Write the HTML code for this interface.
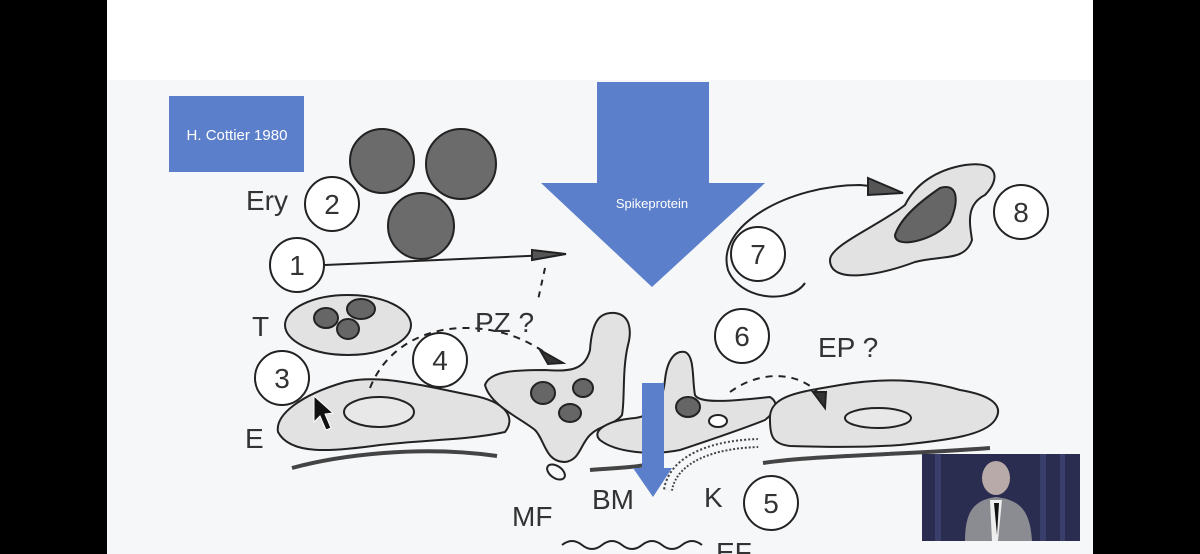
<!DOCTYPE html>
<html><head><meta charset="utf-8"><style>
html,body{margin:0;padding:0;background:#000;}
svg{display:block}
text{font-family:"Liberation Sans",sans-serif;}
</style></head><body>
<svg width="1200" height="554" viewBox="0 0 1200 554" xmlns="http://www.w3.org/2000/svg">
<rect x="0" y="0" width="1200" height="554" fill="#000"/>
<rect x="107" y="0" width="986" height="554" fill="#ffffff"/>
<rect x="107" y="80" width="986" height="474" fill="#f6f7f9"/>

<rect x="169" y="96" width="135" height="76" fill="#5b7fca"/>
<text x="237" y="140" font-size="15" fill="#fff" text-anchor="middle">H. Cottier 1980</text>

<g stroke="#222" stroke-width="2" fill="none">
<circle cx="382" cy="161" r="32" fill="#6b6b6b"/>
<circle cx="461" cy="164" r="35" fill="#6b6b6b"/>
<circle cx="421" cy="226" r="33" fill="#6b6b6b"/>

<circle cx="332" cy="204" r="27" fill="#fff"/>
<circle cx="297" cy="265" r="27" fill="#fff"/>
<circle cx="282" cy="378" r="27" fill="#fff"/>
<circle cx="440" cy="360" r="27" fill="#fff"/>
<circle cx="742" cy="336" r="27" fill="#fff"/>
<circle cx="758" cy="254" r="27" fill="#fff"/>
<circle cx="1021" cy="212" r="27" fill="#fff"/>
<circle cx="771" cy="503" r="27" fill="#fff"/>

<line x1="325" y1="265" x2="550" y2="255"/>
<path d="M532 250 L566 254 L532 260 Z" fill="#555"/>
<path d="M545 268 L538 300" stroke-dasharray="6 6"/>

<ellipse cx="348" cy="325" rx="63" ry="30" fill="#e2e2e2"/>
<ellipse cx="326" cy="318" rx="12" ry="10" fill="#666"/>
<ellipse cx="361" cy="309" rx="14" ry="10" fill="#666"/>
<ellipse cx="348" cy="329" rx="11" ry="10" fill="#666"/>

<path d="M278 432 C275 415 300 395 345 382 C380 374 420 385 470 395 C510 402 515 420 505 432 C470 440 420 440 380 445 C330 452 290 455 278 432 Z" fill="#e2e2e2"/>
<ellipse cx="379" cy="412" rx="35" ry="15" fill="#e8e8e8"/>
<path d="M292 468 C340 455 420 445 497 456" stroke-width="4" stroke="#444"/>
<path d="M370 388 C385 350 420 330 460 328 C500 327 530 340 555 360" stroke-dasharray="7 6"/>
<path d="M540 350 L563 363 L548 364 Z" fill="#333"/>

<path d="M485 385 C490 370 520 370 545 370 C570 372 585 370 590 350 C592 320 600 312 615 313 C630 315 632 330 628 345 C622 370 625 400 622 415 C615 425 600 425 590 435 C580 445 580 460 565 462 C545 462 545 440 535 430 C520 418 490 405 485 385 Z" fill="#e2e2e2"/>
<ellipse cx="543" cy="393" rx="12" ry="11" fill="#666"/>
<ellipse cx="583" cy="388" rx="10" ry="9" fill="#666"/>
<ellipse cx="570" cy="413" rx="11" ry="9" fill="#666"/>
<ellipse cx="556" cy="472" rx="10" ry="6" transform="rotate(35 556 472)"/>

<path d="M600 440 C590 430 610 420 635 418 C655 415 662 405 665 380 C667 360 675 350 685 352 C695 356 692 380 695 395 C700 405 740 400 770 397 C780 403 775 412 765 420 C740 430 710 440 680 450 C650 456 615 452 600 440 Z" fill="#e2e2e2"/>
<ellipse cx="688" cy="407" rx="12" ry="10" fill="#666"/>
<ellipse cx="718" cy="421" rx="9" ry="6" fill="#fff"/>
<path d="M668 490 C672 465 700 445 758 443" stroke-width="10" stroke="#444" stroke-dasharray="2 2"/>
<path d="M668 490 C672 465 700 445 758 443" stroke-width="6" stroke="#f6f7f9"/>
<path d="M590 470 C610 468 630 468 645 465" stroke-width="4" stroke="#444"/>

<path d="M770 420 C768 395 800 392 840 385 C880 378 920 378 960 390 C990 395 1005 405 995 420 C985 435 950 440 900 445 C860 448 820 447 790 446 C772 444 770 435 770 420 Z" fill="#e2e2e2"/>
<ellipse cx="878" cy="418" rx="33" ry="10" fill="#e8e8e8"/>
<path d="M763 463 C820 455 900 455 990 448" stroke-width="4" stroke="#444"/>
<path d="M730 392 C760 370 800 370 822 397" stroke-dasharray="7 6"/>
<path d="M813 392 L825 408 L826 392 Z" fill="#333"/>

<path d="M805 283 C790 305 740 300 728 270 C715 225 790 185 860 185 L880 187"/>
<path d="M868 178 L903 193 L868 195 Z" fill="#555"/>
<path d="M830 260 C830 245 880 225 905 205 C915 185 935 170 965 165 C1000 160 1000 180 985 195 C965 205 970 225 972 240 C965 262 940 255 915 262 C880 275 830 285 830 260 Z" fill="#e2e2e2"/>
<path d="M895 235 C900 220 915 205 940 188 C960 182 958 205 950 222 C935 240 895 250 895 235 Z" fill="#666"/>

<path d="M562 545 q10 -8 20 0 q10 8 20 0 q10 -8 20 0 q10 8 20 0 q10 -8 20 0 q10 8 20 0 q10 -8 20 0" stroke-width="2"/>
</g>

<g font-size="28" fill="#333">
<text x="332" y="214" text-anchor="middle">2</text>
<text x="297" y="275" text-anchor="middle">1</text>
<text x="282" y="388" text-anchor="middle">3</text>
<text x="440" y="370" text-anchor="middle">4</text>
<text x="742" y="346" text-anchor="middle">6</text>
<text x="758" y="264" text-anchor="middle">7</text>
<text x="1021" y="222" text-anchor="middle">8</text>
<text x="771" y="513" text-anchor="middle">5</text>
<text x="246" y="210">Ery</text>
<text x="252" y="336">T</text>
<text x="245" y="448">E</text>
<text x="475" y="332">PZ ?</text>
<text x="818" y="357">EP ?</text>
<text x="512" y="526">MF</text>
<text x="592" y="509">BM</text>
<text x="704" y="507">K</text>
<text x="716" y="562">EF</text>
</g>

<path d="M597 82 H709 V183 H765 L652 287 L541 183 H597 Z" fill="#5b7fca"/>
<text x="652" y="208" font-size="13" fill="#fff" text-anchor="middle">Spikeprotein</text>
<path d="M642 383 H664 V468 H672 L653 497 L633 468 H642 Z" fill="#5b7fca"/>

<path d="M314 396 L314 422 L320 416 L326 430 L331 428 L325 414 L333 413 Z" fill="#111" stroke="#fff" stroke-width="1"/>

<rect x="922" y="454" width="158" height="87" fill="#2a2d50"/>
<rect x="935" y="454" width="6" height="87" fill="#3a3e6a"/>
<rect x="1040" y="454" width="6" height="87" fill="#3a3e6a"/>
<rect x="1060" y="454" width="5" height="87" fill="#3a3e6a"/>
<ellipse cx="996" cy="478" rx="14" ry="17" fill="#b8aaa8"/>
<path d="M965 541 C965 510 975 500 996 497 C1020 500 1030 510 1032 541 Z" fill="#8a8c92"/>
<path d="M990 500 L1002 500 L998 541 L992 541 Z" fill="#eee"/>
<path d="M994 503 L999 503 L997 535 Z" fill="#111"/>
</svg>
</body></html>
